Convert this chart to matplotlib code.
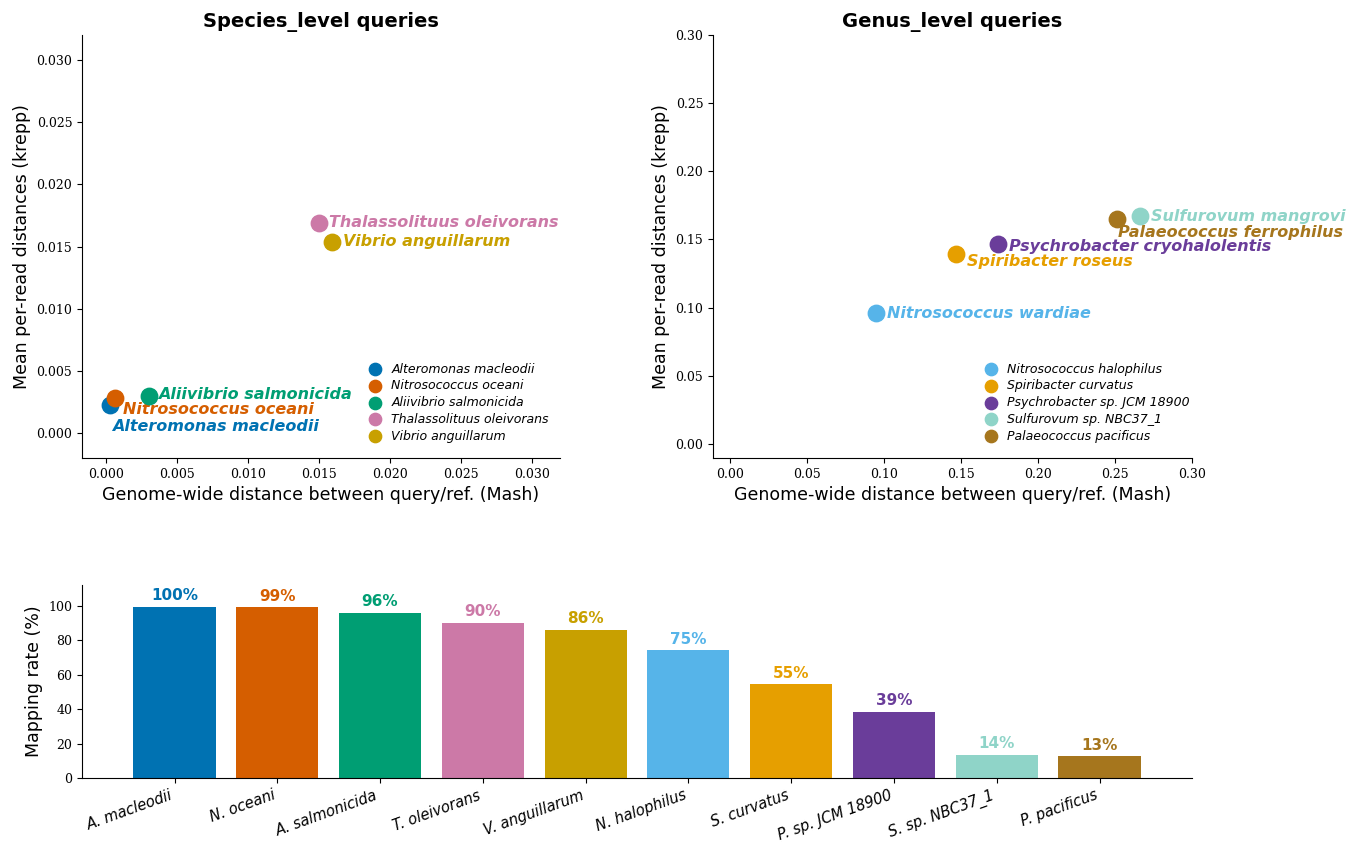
import matplotlib
matplotlib.use("Agg")
import matplotlib.pyplot as plt

sp_legend = ["Alteromonas macleodii", "Nitrosococcus oceani", "Aliivibrio salmonicida", "Thalassolituus oleivorans", "Vibrio anguillarum"]
sp_ann = ["Alteromonas macleodii", "Nitrosococcus oceani", "Aliivibrio salmonicida", "Thalassolituus oleivorans", "Vibrio anguillarum"]
sp_mash = [0.0003, 0.0006, 0.0030, 0.0150, 0.0159]
sp_krepp = [0.0023, 0.0028, 0.0030, 0.0169, 0.0154]
sp_colors = ["#0072B2", "#D55E00", "#009E73", "#CC79A7", "#C8A000"]
sp_off = [(1.5, -16), (6, -8), (7, 1), (7, 0), (8, 0)]

ge_legend = ["Nitrosococcus halophilus", "Spiribacter curvatus", "Psychrobacter sp. JCM 18900", "Sulfurovum sp. NBC37_1", "Palaeococcus pacificus"]
ge_ann = ["Nitrosococcus wardiae", "Spiribacter roseus", "Psychrobacter cryohalolentis", "Sulfurovum mangrovi", "Palaeococcus ferrophilus"]
ge_mash = [0.095, 0.147, 0.174, 0.266, 0.251]
ge_krepp = [0.096, 0.139, 0.147, 0.167, 0.165]
ge_colors = ["#56B4E9", "#E69F00", "#6A3D9A", "#8FD4C8", "#A6761D"]
ge_off = [(8, 0), (8, -5), (8, -2), (8, 0), (1, -10)]

bar_labels = ["A. macleodii", "N. oceani", "A. salmonicida", "T. oleivorans", "V. anguillarum",
              "N. halophilus", "S. curvatus", "P. sp. JCM 18900", "S. sp. NBC37_1", "P. pacificus"]
bar_vals = [99.5, 99, 96, 90, 86, 74, 54.5, 38.5, 13.5, 12.5]
bar_text = ["100%", "99%", "96%", "90%", "86%", "75%", "55%", "39%", "14%", "13%"]
bar_colors = sp_colors + ge_colors

fig = plt.figure(figsize=(13.58, 8.6), dpi=100)
W, H = 1358, 860
def ax_px(l, t, r, b):
    return fig.add_axes([l / W, 1 - b / H, (r - l) / W, (b - t) / H])

ax1 = ax_px(82, 35, 560, 458)
ax2 = ax_px(713, 35, 1192, 458)
ax3 = ax_px(82, 585, 1192, 778)

def style(ax):
    ax.spines["top"].set_visible(False)
    ax.spines["right"].set_visible(False)
    for lab in ax.get_xticklabels() + ax.get_yticklabels():
        lab.set_fontfamily("serif")
        lab.set_fontsize(9)

def scat(ax, xs, ys, cols, leg, ann, offs):
    for x, y, c, l, a, o in zip(xs, ys, cols, leg, ann, offs):
        ax.scatter([x], [y], s=140, color=c, label=l, zorder=3)
        ax.annotate(a, (x, y), xytext=o, textcoords="offset points", color=c,
                    fontsize=11.5, fontweight="bold", fontstyle="italic", va="center", ha="left")
    ax.set_xlabel("Genome-wide distance between query/ref. (Mash)", fontsize=12.5)
    ax.set_ylabel("Mean per-read distances (krepp)", fontsize=12.5)

scat(ax1, sp_mash, sp_krepp, sp_colors, sp_legend, sp_ann, sp_off)
ax1.set_xlim(-0.0017, 0.032)
ax1.set_ylim(-0.002, 0.032)
ax1.set_xticks([0, 0.005, 0.01, 0.015, 0.02, 0.025, 0.03])
ax1.set_yticks([0, 0.005, 0.01, 0.015, 0.02, 0.025, 0.03])
ax1.set_xticklabels(["%.3f" % v for v in ax1.get_xticks()])
ax1.set_yticklabels(["%.3f" % v for v in ax1.get_yticks()])
ax1.set_title("Species_level queries", fontsize=14, fontweight="bold")
ax1.legend(loc="lower right", frameon=False, prop={"style": "italic", "size": 9},
           handletextpad=0.3, labelspacing=0.3, markerscale=0.75, bbox_to_anchor=(1.0, 0.01))

scat(ax2, ge_mash, ge_krepp, ge_colors, ge_legend, ge_ann, ge_off)
ax2.set_xlim(-0.011, 0.30)
ax2.set_ylim(-0.0103, 0.30)
ax2.set_xticks([0, 0.05, 0.1, 0.15, 0.2, 0.25, 0.3])
ax2.set_yticks([0, 0.05, 0.1, 0.15, 0.2, 0.25, 0.3])
ax2.set_xticklabels(["%.2f" % v for v in ax2.get_xticks()])
ax2.set_yticklabels(["%.2f" % v for v in ax2.get_yticks()])
ax2.set_title("Genus_level queries", fontsize=14, fontweight="bold")
ax2.legend(loc="lower left", frameon=False, prop={"style": "italic", "size": 9},
           handletextpad=0.3, labelspacing=0.3, markerscale=0.75, bbox_to_anchor=(0.53, 0.01))

xs = list(range(len(bar_vals)))
ax3.bar(xs, bar_vals, color=bar_colors, width=0.8)
for x, v, t, c in zip(xs, bar_vals, bar_text, bar_colors):
    ax3.text(x, v + 2, t, color=c, ha="center", va="bottom", fontsize=11, fontweight="bold")
ax3.set_xlim(-0.9, 9.9)
ax3.set_ylim(0, 112)
ax3.set_yticks([0, 20, 40, 60, 80, 100])
ax3.set_xticks(xs)
ax3.set_xticklabels(bar_labels, rotation=20, ha="right")
ax3.set_ylabel("Mapping rate (%)", fontsize=12.5)

for ax in (ax1, ax2, ax3):
    style(ax)
for lab in ax3.get_xticklabels():
    lab.set_fontfamily("DejaVu Sans")
    lab.set_fontstyle("italic")
    lab.set_fontsize(10.5)

fig.savefig("out.png", dpi=100)
